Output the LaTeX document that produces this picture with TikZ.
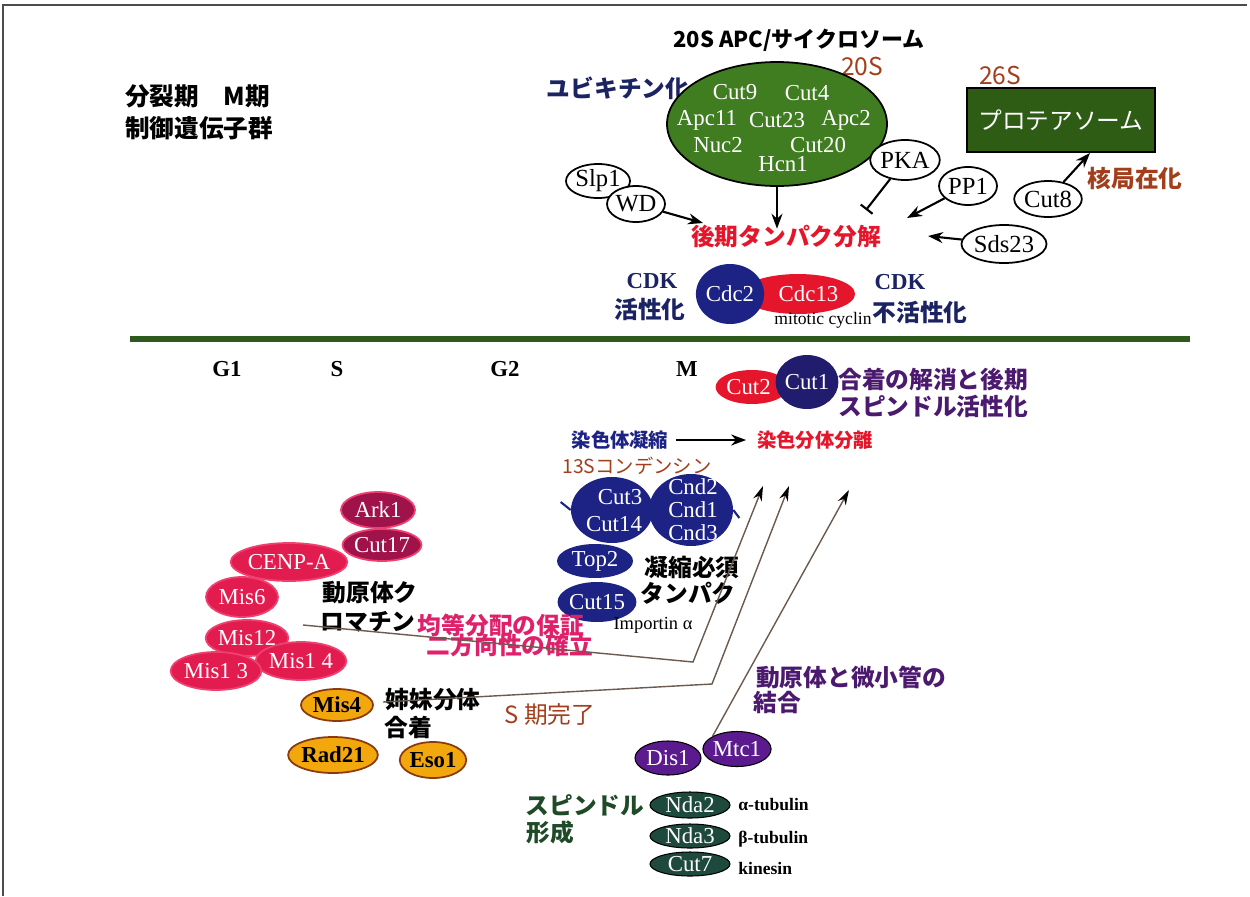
\documentclass[tikz,border=0pt]{standalone}
\usepackage{fontspec}
\setmainfont{Liberation Serif}
\newfontfamily\jp{Noto Sans CJK JP}
\usetikzlibrary{shapes.geometric,arrows.meta}
\definecolor{apcgreen}{HTML}{3F7D20}
\definecolor{boxgreen}{HTML}{2E5C14}
\definecolor{divgreen}{HTML}{2F5A1E}
\definecolor{navy}{HTML}{1C2384}
\definecolor{cdknavy}{HTML}{1B2363}
\definecolor{cutnavy}{HTML}{221C6E}
\definecolor{dred}{HTML}{E5162B}
\definecolor{dbrown}{HTML}{A33E1C}
\definecolor{maroon}{HTML}{A0124A}
\definecolor{kpink}{HTML}{E31C4F}
\definecolor{kborder}{HTML}{F04070}
\definecolor{ptext}{HTML}{E0206A}
\definecolor{dorange}{HTML}{F2A80C}
\definecolor{oborder}{HTML}{8B3A10}
\definecolor{dpurple}{HTML}{5B1A8E}
\definecolor{ptxt}{HTML}{4B1A6E}
\definecolor{teal}{HTML}{1D4A3C}
\definecolor{sgreen}{HTML}{1E4A28}
\definecolor{lline}{HTML}{6B5A50}
\begin{document}
\begin{tikzpicture}[x=0.02cm,y=-0.02cm,
  el/.style 2 args={ellipse,inner sep=0pt,minimum width={#1*0.02cm},minimum height={#2*0.02cm}},
  jl/.style={inner sep=0pt,font=\jp\bfseries\fontsize{13.5}{16}\selectfont},
  js/.style={inner sep=0pt,font=\jp\bfseries\fontsize{10}{12}\selectfont},
  ll/.style={inner sep=0pt,font=\bfseries\fontsize{13}{15}\selectfont},
  wel/.style={draw=black,line width=1pt,fill=white,font=\fontsize{14}{16}\selectfont},
  cel/.style={text=white,font=\fontsize{13}{15}\selectfont},
  wtxt/.style={inner sep=0pt,text=white,font=\fontsize{13}{15}\selectfont},
  small/.style={inner sep=0pt,font=\fontsize{10}{12}\selectfont},
  arr/.style={line width=1.2pt,-{Stealth[length=3mm,width=2.2mm]}},
  inh/.style={line width=1.2pt,-{Bar[width=3mm]}},
  thinarr/.style={draw=lline,line width=0.8pt,-{Stealth[length=3mm,width=1.8mm,color=black]}},
  kin/.style={draw=kborder,line width=1pt,fill=kpink,text=white,font=\fontsize{13}{15}\selectfont},
  ark/.style={draw=kborder,line width=1pt,fill=maroon,text=white,font=\fontsize{13}{15}\selectfont},
  coh/.style={draw=oborder,line width=1pt,fill=dorange,text=black,font=\bfseries\fontsize{13}{15}\selectfont},
  pur/.style={draw=black,line width=0.6pt,fill=dpurple,text=white,font=\fontsize{13}{15}\selectfont},
  tub/.style={draw=black,line width=0.6pt,fill=teal,text=white,font=\fontsize{13}{15}\selectfont}
]
\useasboundingbox (0,0) rectangle (1250,896);
% frame
\draw[line width=1.2pt,black!70] (3,896) -- (3,5) -- (1247,5);

% title
\node[jl,anchor=west,font=\jp\bfseries\fontsize{14}{16}\selectfont] (t1) at (125,96) {分裂期　M期};
\node[jl,anchor=west,font=\jp\bfseries\fontsize{14}{16}\selectfont] (t2) at (125,128) {制御遺伝子群};

% APC
\node[jl,font=\jp\bfseries\fontsize{12.5}{15}\selectfont] (apct) at (799,40) {20S APC/サイクロソーム};
\node[inner sep=0pt,text=dbrown,font=\jp\fontsize{14}{16}\selectfont] (s20) at (862,66) {20S};
\node[jl,text=cdknavy] (ubi) at (618,88) {ユビキチン化};
\node[el={220}{124},draw=black,line width=1pt,fill=apcgreen] (apc) at (777,124) {};
\node[wtxt] (c9) at (735,92) {Cut9};
\node[wtxt] (c4) at (807,93) {Cut4};
\node[wtxt] (a11) at (707,120) {Apc11};
\node[wtxt] (c23) at (777,120) {Cut23};
\node[wtxt] (a2) at (846,120) {Apc2};
\node[wtxt] (n2) at (718,145) {Nuc2};
\node[wtxt] (c20) at (818,145) {Cut20};
\node[wtxt] (h1) at (783,164) {Hcn1};

\node[jl,text=dred] (deg) at (786,237) {後期タンパク分解};
\draw[arr] (apc.south) -- ([yshift=-2pt]deg.north -| apc.south);

\node[wel,el={64}{34}] (slp) at (598,181) {Slp1};
\node[wel,el={52}{36}] (wd) at (636,204) {WD};
\coordinate (wdT) at (703,223);
\draw[arr] (wd) -- (wdT);

\node[wel,el={64}{40}] (pka) at (905,160) {PKA};
\coordinate (pkaT) at (866,210);
\draw[inh] (pka) -- (pkaT);
\node[wel,el={58}{38}] (pp1) at (968,186) {PP1};
\coordinate (pp1T) at (907,218);
\draw[arr] (pp1) -- (pp1T);
\node[wel,el={70}{38}] (sds) at (1004,244) {Sds23};
\coordinate (sdsT) at (928,236);
\draw[arr] (sds) -- (sdsT);

% 26S
\node[inner sep=0pt,text=dbrown,font=\jp\fontsize{14}{16}\selectfont] (s26) at (1000,75) {26S};
\node[draw=black,line width=1pt,fill=boxgreen,minimum width={188*0.02cm},minimum height={64*0.02cm},text=white,font=\jp\fontsize{13.5}{16}\selectfont] (prot) at (1061,120) {\raisebox{-3pt}{プロテアソーム}};
\node[wel,el={62}{36}] (cut8) at (1048,199) {Cut8};
\coordinate (protB) at (1090,153);
\draw[arr] (cut8) -- (protB);
\node[jl,text=dbrown] (nuc) at (1135,179) {核局在化};

% CDK
\node[ll,text=cdknavy] (cdk1) at (652,281) {CDK};
\node[jl,text=cdknavy] (act) at (650,309) {活性化};
\node[el={84}{40},fill=dred,cel] (cdc13) at (798,294) {\hspace*{12pt}Cdc13};
\node[el={60}{60},fill=navy,cel] (cdc2) at (730,294) {Cdc2};
\node[small] (mc) at (823,320) {mitotic cyclin};
\node[ll,text=cdknavy] (cdk2) at (900,282) {CDK};
\node[jl,text=cdknavy] (inact) at (920,312) {不活性化};

% divider
\draw[line width=3pt,divgreen] (130,339) -- (1190,339);

% phases
\node[ll] (g1) at (227,369) {G1};
\node[ll] (sph) at (337,369) {S};
\node[ll] (g2) at (505,369) {G2};
\node[ll] (mph) at (687,369) {M};

% Cut2/Cut1
\node[el={62}{34},fill=dred,cel] (cut2) at (752,387) {Cut2\hspace*{4pt}};
\node[el={54}{54},fill=cutnavy,cel] (cut1) at (807,382) {Cut1};
\node[jl,anchor=west,text=ptxt] (coh1) at (838,379) {合着の解消と後期};
\node[jl,anchor=west,text=ptxt] (coh2) at (838,406) {スピンドル活性化};

\node[js,text=navy,font=\jp\bfseries\fontsize{11}{13}\selectfont] (cond) at (620,440) {染色体凝縮};
\node[js,text=dred,font=\jp\bfseries\fontsize{11}{13}\selectfont] (sep) at (815,440) {染色分体分離};
\draw[arr,shorten <=4pt,shorten >=6pt] (cond) -- (sep);
\node[inner sep=0pt,text=dbrown,font=\jp\fontsize{11}{13}\selectfont] (c13s) at (637,466) {13Sコンデンシン};

% condensin
\node[el={82}{66},fill=navy] (c314) at (612,510) {};
\node[el={84}{72},fill=navy] (cnd) at (691,510) {};
\draw[navy,line width=1.2pt] (c314.west) -- ++(-10,-8) coordinate (stubL);
\draw[navy,line width=1.2pt] (cnd.east) -- ++(6,8) coordinate (stubR);
\node[wtxt] (c3) at (620,497) {Cut3};
\node[wtxt] (c14) at (614,524) {Cut14};
\node[wtxt] (cnd2) at (693,487) {Cnd2};
\node[wtxt] (cnd1) at (693,510) {Cnd1};
\node[wtxt] (cnd3) at (693,533) {Cnd3};
\node[el={76}{34},fill=navy,cel] (top2) at (595,561) {Top2};
\node[el={72}{40},fill=navy,cel] (cut15) at (597,602) {Cut15};
\node[jl] (nec1) at (692,567) {凝縮必須};
\node[jl] (nec2) at (688,593) {タンパク};
\node[small,font=\fontsize{10.5}{12}\selectfont] (imp) at (653,625) {Importin α};

% kinetochore
\node[ark,el={74}{36}] (ark1) at (378,510) {Ark1};
\node[ark,el={76}{32}] (cut17) at (382,545) {Cut17};
\node[kin,el={92}{38}] (cenp) at (289,562) {CENP-A};
\node[kin,el={72}{40}] (mis6) at (242,597) {Mis6};
\node[kin,el={82}{36}] (mis12) at (247,638) {Mis12};
\node[kin,el={82}{38}] (mis14) at (301,661) {Mis1 4};
\node[kin,el={84}{38}] (mis13) at (216,671) {Mis1 3};
\node[jl] (kc1) at (370,593) {動原体ク};
\node[jl] (kc2) at (368,622) {ロマチン};
\node[jl,text=ptext] (eq1) at (501,625) {均等分配の保証};
\node[jl,text=ptext] (eq2) at (510,646) {二方向性の確立};

% cohesin
\node[coh,el={72}{32}] (mis4) at (337,705) {Mis4};
\node[coh,el={80}{36}] (rad21) at (333,755) {Rad21};
\node[coh,el={60}{36}] (eso1) at (433,760) {Eso1};
\node[jl] (sis1) at (433,700) {姉妹分体};
\node[jl] (sis2) at (408,727) {合着};
\node[inner sep=0pt,text=dbrown,font=\jp\fontsize{13.5}{16}\selectfont] (sdone) at (550,715) {S 期完了};

% kinetochore-microtubule
\node[jl,text=ptxt] (km1) at (851,677) {動原体と微小管の};
\node[jl,text=ptxt] (km2) at (777,702) {結合};
\node[pur,el={66}{34}] (dis1) at (668,758) {Dis1};
\node[pur,el={66}{35}] (mtc1) at (737,749) {Mtc1};

% spindle
\node[jl,text=sgreen] (sp1) at (585,805) {スピンドル};
\node[jl,text=sgreen] (sp2) at (550,832) {形成};
\node[tub,el={80}{26}] (nda2) at (690,805) {Nda2};
\node[tub,el={80}{24}] (nda3) at (690,836) {Nda3};
\node[tub,el={80}{24}] (cut7) at (690,864) {Cut7};
\node[small,anchor=west,font=\bfseries\fontsize{10}{12}\selectfont] (atub) at (738,804) {α-tubulin};
\node[small,anchor=west,font=\bfseries\fontsize{10}{12}\selectfont] (btub) at (738,839) {β-tubulin};
\node[small,anchor=west,font=\bfseries\fontsize{10}{12}\selectfont] (kins) at (738,868) {kinesin};

% long arrows
\coordinate (a1s) at (303,625);
\coordinate (a1m) at (693,662);
\coordinate (a1e) at (763,486);
\coordinate (a2s) at (383,702);
\coordinate (a2m) at (712,684);
\coordinate (a2e) at (789,486);
\coordinate (a3e) at (849,490);
\draw[thinarr] (a1s) -- (a1m) -- (a1e);
\draw[thinarr] (a2s) -- (a2m) -- (a2e);
\draw[thinarr] (mtc1.north west) -- (a3e);
\end{tikzpicture}
\end{document}
